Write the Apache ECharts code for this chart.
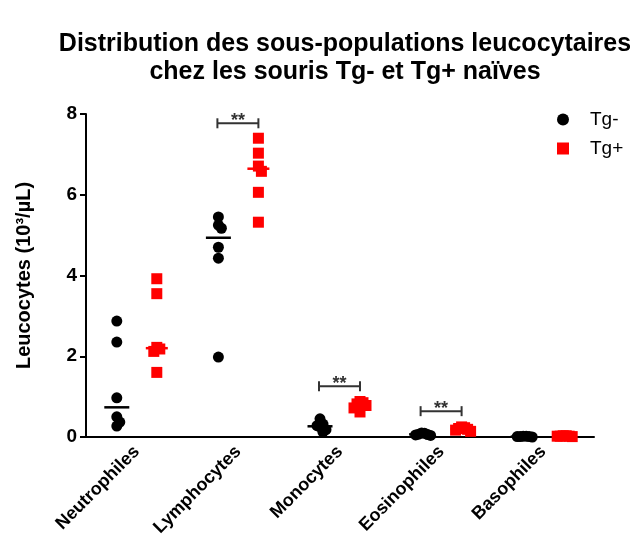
<!DOCTYPE html>
<html>
<head>
<meta charset="utf-8">
<script src="https://cdn.jsdelivr.net/npm/echarts@6/dist/echarts.min.js"></script>
<style>
  html, body { margin: 0; padding: 0; background: #fff; }
  #chart { width: 630px; height: 542px; }
</style>
</head>
<body>
<div id="chart"></div>
<script>
// Leukocyte sub-populations (10^3/µL), one array per group per cell type
const categories = ['Neutrophiles', 'Lymphocytes', 'Monocytes', 'Eosinophiles', 'Basophiles'];

const tgMinusNeutro = [2.87, 2.35, 0.97, 0.50, 0.37, 0.27];
const tgMinusLympho = [5.45, 5.25, 5.17, 4.70, 4.43, 1.98];
const tgMinusMono   = [0.45, 0.32, 0.28, 0.25, 0.18, 0.12];
const tgMinusEosino = [0.10, 0.09, 0.07, 0.06, 0.05, 0.04];
const tgMinusBaso   = [0.02, 0.02, 0.01, 0.01, 0.01, 0.00];

const tgPlusNeutro = [3.92, 3.55, 2.22, 2.18, 2.12, 1.60];
const tgPlusLympho = [7.40, 7.03, 6.71, 6.58, 6.06, 5.32];
const tgPlusMono   = [0.88, 0.85, 0.82, 0.78, 0.72, 0.62];
const tgPlusEosino = [0.25, 0.23, 0.21, 0.19, 0.17, 0.14];
const tgPlusBaso   = [0.03, 0.03, 0.02, 0.02, 0.02, 0.01];

const yTicks = [0, 2, 4, 6, 8];

// significance brackets: category index, bracket level, label
const sigCategory = [1, 2, 3];
const sigLevel    = [7.77, 1.26, 0.64];
const sigLabel    = ['**', '**', '**'];

const tgMinus = [tgMinusNeutro, tgMinusLympho, tgMinusMono, tgMinusEosino, tgMinusBaso];
const tgPlus  = [tgPlusNeutro, tgPlusLympho, tgPlusMono, tgPlusEosino, tgPlusBaso];

const FONT = '"Liberation Sans", Arial, sans-serif';
const W = 630, H = 542;
const grid = { left: 86, right: 36, top: 114, bottom: 105 };
const yMin = 0, yMax = 8;
const pxPerUnit = (H - grid.top - grid.bottom) / (yMax - yMin);
const GROUP_SHIFT = 20;   // px offset of each group from the category centre
const SEP_X = 3;          // sideways step between dots that share a row
const SEP_Y = 8;          // dots closer than this vertically share a row

// simple beeswarm: spread overlapping dots sideways
function swarm(values) {
  const placed = [];
  return values.map(v => {
    const y = v * pxPerUnit;
    let chosen = 0;
    for (let k = 0; k < 80; k++) {
      const cand = k === 0 ? 0 : (k % 2 ? 1 : -1) * Math.ceil(k / 2);
      const free = placed.every(p => Math.abs(p.y - y) >= SEP_Y || Math.abs(p.x - cand) >= SEP_X);
      if (free) { chosen = cand; break; }
    }
    placed.push({ x: chosen, y });
    return chosen;
  });
}

function median(arr) {
  const s = arr.slice().sort((a, b) => a - b);
  const n = s.length;
  return n % 2 ? s[(n - 1) / 2] : (s[n / 2 - 1] + s[n / 2]) / 2;
}

function pointData(groups, shift) {
  const out = [];
  groups.forEach((vals, i) => {
    const offs = swarm(vals);
    vals.forEach((v, j) => out.push({ value: [i, v], symbolOffset: [shift + offs[j], 0] }));
  });
  return out;
}

function medianData(groups, shift) {
  return groups.map((vals, i) => ({ value: [i, median(vals)], symbolOffset: [shift, 0] }));
}

const sigData = sigCategory.map((c, k) => [c, sigLevel[k], sigLabel[k]]);

const chart = echarts.init(document.getElementById('chart'), null, { renderer: 'canvas' });

chart.setOption({
  backgroundColor: '#ffffff',
  animation: false,
  title: {
    text: 'Distribution des sous-populations leucocytaires\nchez les souris Tg- et Tg+ naïves',
    left: 340,
    top: 25,
    textAlign: 'center',
    textStyle: { fontFamily: FONT, fontSize: 25, fontWeight: 'bold', color: '#000', lineHeight: 28 }
  },
  legend: {
    orient: 'vertical',
    left: 552,
    top: 105,
    itemGap: 10,
    itemWidth: 12,
    itemHeight: 12,
    data: [
      { name: 'Tg-', icon: 'circle' },
      { name: 'Tg+', icon: 'rect' }
    ],
    textStyle: { fontFamily: FONT, fontSize: 19, color: '#000', padding: [0, 0, 0, 16] },
    selectedMode: false
  },
  grid: grid,
  xAxis: {
    type: 'category',
    data: categories,
    boundaryGap: true,
    axisLine: { lineStyle: { color: '#000', width: 2 } },
    axisTick: { alignWithLabel: true, length: 6, lineStyle: { color: '#000', width: 2 } },
    axisLabel: {
      rotate: 45, margin: 12, interval: 0,
      fontFamily: FONT, fontSize: 18, fontWeight: 'bold', color: '#000'
    },
    splitLine: { show: false }
  },
  yAxis: {
    type: 'value',
    min: yMin, max: yMax, interval: 2,
    name: 'Leucocytes (10³/µL)',
    nameLocation: 'middle',
    nameGap: 52,
    nameTextStyle: { fontFamily: FONT, fontSize: 20, fontWeight: 'bold', color: '#000' },
    axisLine: { show: true, lineStyle: { color: '#000', width: 2 } },
    axisTick: { show: true, length: 6, lineStyle: { color: '#000', width: 2 } },
    axisLabel: {
      margin: 9, fontFamily: FONT, fontSize: 19, fontWeight: 'bold', color: '#000',
      formatter: v => (yTicks.indexOf(v) >= 0 ? String(v) : '')
    },
    splitLine: { show: false }
  },
  series: [
    {
      name: 'Tg- median', type: 'scatter', symbol: 'rect', symbolSize: [25, 2.5],
      itemStyle: { color: '#000', opacity: 1 }, z: 3, silent: true,
      data: medianData(tgMinus, -GROUP_SHIFT)
    },
    {
      name: 'Tg+ median', type: 'scatter', symbol: 'rect', symbolSize: [22, 2.5],
      itemStyle: { color: '#ff0000', opacity: 1 }, z: 3, silent: true,
      data: medianData(tgPlus, GROUP_SHIFT)
    },
    {
      name: 'Tg-', type: 'scatter', symbol: 'circle', symbolSize: 11,
      itemStyle: { color: '#000', opacity: 1 }, z: 4,
      data: pointData(tgMinus, -GROUP_SHIFT)
    },
    {
      name: 'Tg+', type: 'scatter', symbol: 'rect', symbolSize: 11,
      itemStyle: { color: '#ff0000', opacity: 1 }, z: 4,
      data: pointData(tgPlus, GROUP_SHIFT)
    },
    {
      name: 'significance', type: 'custom', z: 5, silent: true,
      data: sigData,
      renderItem: function (params, api) {
        const p = api.coord([api.value(0), api.value(1)]);
        const x1 = p[0] - GROUP_SHIFT - 1, x2 = p[0] + GROUP_SHIFT, y = p[1];
        const stroke = { stroke: '#333', lineWidth: 2 };
        return {
          type: 'group',
          children: [
            { type: 'line', shape: { x1: x1, y1: y, x2: x2, y2: y }, style: stroke },
            { type: 'line', shape: { x1: x1, y1: y - 5, x2: x1, y2: y + 5 }, style: stroke },
            { type: 'line', shape: { x1: x2, y1: y - 5, x2: x2, y2: y + 5 }, style: stroke },
            {
              type: 'text',
              style: {
                text: sigData[params.dataIndex][2],
                x: (x1 + x2) / 2, y: y + 7,
                align: 'center', verticalAlign: 'bottom',
                font: 'bold 18px ' + FONT, fill: '#333'
              }
            }
          ]
        };
      }
    }
  ]
});
</script>
</body>
</html>
